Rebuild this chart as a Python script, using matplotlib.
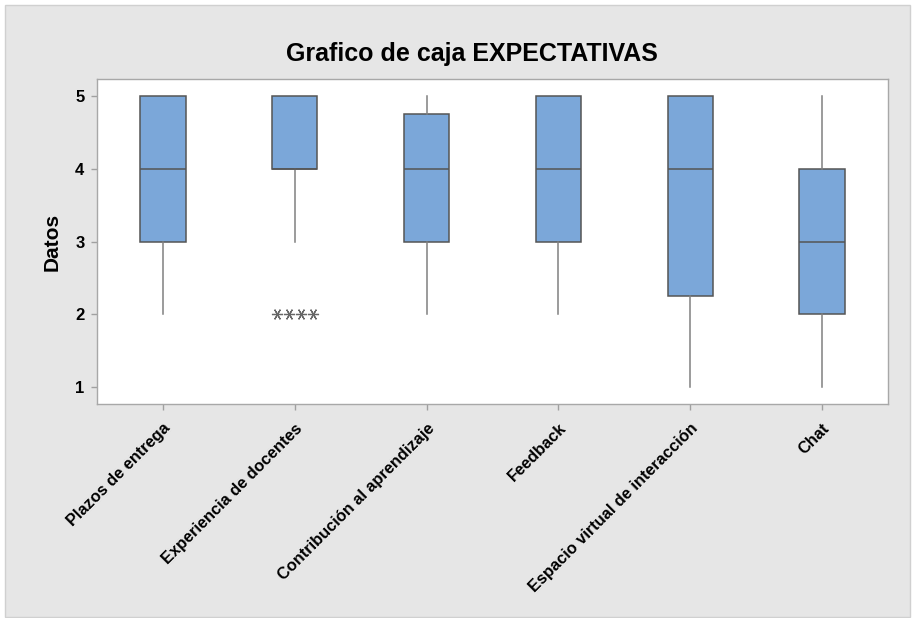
import matplotlib.pyplot as plt
from matplotlib.patches import Rectangle

plt.rcParams['font.family'] = ['Liberation Sans', 'DejaVu Sans']

categories = ["Plazos de entrega", "Experiencia de docentes", "Contribución al aprendizaje",
              "Feedback", "Espacio virtual de interacción", "Chat"]
q1 = [3, 4, 3, 3, 2.25, 2]
med = [4, 4, 4, 4, 4, 3]
q3 = [5, 5, 4.75, 5, 5, 4]
whislo = [2, 3, 2, 2, 1, 1]
whishi = [5, 5, 5, 5, 5, 5]
outliers = [[], [2, 2, 2, 2], [], [], [], []]
yticks = [1, 2, 3, 4, 5]

box_color = '#7ba7d9'
edge_color = '#555555'
whisk_color = '#808080'

fig = plt.figure(figsize=(9.2, 6.18), dpi=100, facecolor='white')
# gray panel behind the plot (Minitab style)
fig.patches.append(Rectangle((5 / 920, 1 / 618), 905 / 920, 612 / 618, transform=fig.transFigure,
                             facecolor='#e6e6e6', edgecolor='#d0d0d0', linewidth=1, zorder=-10))

ax = fig.add_axes([97 / 920, 1 - 404 / 618, 791 / 920, 325 / 618])
ax.set_facecolor('white')

stats = []
for i in range(len(categories)):
    stats.append(dict(q1=q1[i], med=med[i], q3=q3[i], whislo=whislo[i], whishi=whishi[i], fliers=[]))

positions = list(range(1, len(categories) + 1))
ax.bxp(stats, positions=positions, widths=0.345, patch_artist=True, showcaps=False,
       boxprops=dict(facecolor=box_color, edgecolor=edge_color, linewidth=1.1),
       medianprops=dict(color=edge_color, linewidth=1.1),
       whiskerprops=dict(color=whisk_color, linewidth=1.1))

# Minitab style: tied outliers shown side by side
for pos, vals in zip(positions, outliers):
    n = len(vals)
    for k, v in enumerate(vals):
        off = (k - (n - 1) / 2) * 0.092
        ax.plot(pos + off, v, marker=(6, 2, 30), markersize=8, color='#666666',
                markeredgewidth=0.9, linestyle='none')

ax.set_xlim(0.5, 6.5)
ax.set_ylim(0.766, 5.234)
ax.set_yticks(yticks)
ax.set_yticklabels([str(t) for t in yticks], fontsize=12, fontweight='bold')
ax.set_xticks(positions)
ax.set_xticklabels(categories, rotation=45, ha='right', rotation_mode='anchor',
                   fontsize=11.8, fontweight='bold')
ax.tick_params(axis='both', colors='#a0a0a0', length=4, width=1, labelcolor='black')
ax.tick_params(axis='x', pad=8)
ax.tick_params(axis='y', pad=5)
for s in ax.spines.values():
    s.set_color('#a8a8a8')
    s.set_linewidth(1)

ax.set_ylabel('Datos', fontsize=15, fontweight='bold', labelpad=10)
fig.text(472 / 920, 1 - 54 / 618, 'Grafico de caja EXPECTATIVAS', ha='center', va='center',
         fontsize=18, fontweight='bold')

fig.savefig('out.png', dpi=100, facecolor='white')
